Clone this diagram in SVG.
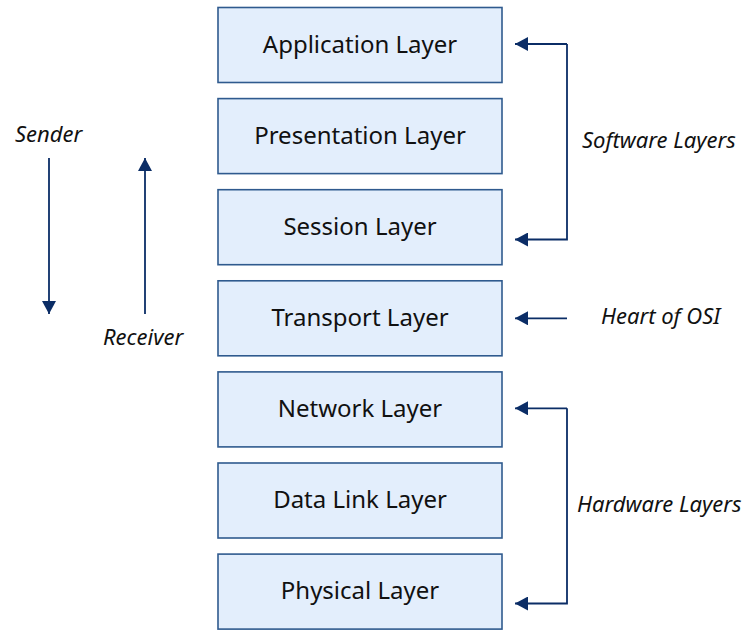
<svg xmlns="http://www.w3.org/2000/svg" width="747" height="630" viewBox="0 0 747 630">
  <style>
    .layer rect { fill: #E3EEFC; stroke: #2F5A8E; stroke-width: 1.6; }
    .layer text { font-family: "Noto Sans", "Open Sans", sans-serif; font-size: 24px; fill: #111; text-anchor: middle; }
    .note { font-family: "Noto Sans", "Open Sans", sans-serif; font-style: italic; font-size: 22px; fill: #111; }
    .link { fill: none; stroke: #0B2D66; stroke-width: 1.8; }
  </style>
  <defs>
    <marker id="head" viewBox="0 0 13 14" refX="13" refY="7" markerWidth="13" markerHeight="14" markerUnits="userSpaceOnUse" orient="auto">
      <path d="M0,0 L13,7 L0,14 Z" fill="#0B2D66"/>
    </marker>
  </defs>
  <rect width="747" height="630" fill="#fff"/>

  <g id="application"  class="layer"><rect x="218" y="7.5" width="284" height="75"/><text x="360" y="53">Application Layer</text></g>
  <g id="presentation" class="layer"><rect x="218" y="98.6" width="284" height="75"/><text x="360" y="144">Presentation Layer</text></g>
  <g id="session"      class="layer"><rect x="218" y="189.7" width="284" height="75"/><text x="360" y="235">Session Layer</text></g>
  <g id="transport"    class="layer"><rect x="218" y="280.8" width="284" height="75"/><text x="360" y="326">Transport Layer</text></g>
  <g id="network"      class="layer"><rect x="218" y="371.9" width="284" height="75"/><text x="360" y="417">Network Layer</text></g>
  <g id="datalink"     class="layer"><rect x="218" y="463" width="284" height="75"/><text x="360" y="508">Data Link Layer</text></g>
  <g id="physical"     class="layer"><rect x="218" y="554.1" width="284" height="75"/><text x="360" y="599">Physical Layer</text></g>

  <g id="connectors">
    <!-- direction of travel -->
    <line class="link" x1="49" y1="158" x2="49" y2="314" marker-end="url(#head)"/>
    <line class="link" x1="145" y1="314" x2="145" y2="158" marker-end="url(#head)"/>
    <!-- software bracket -->
    <polyline class="link" points="567,44 567,239.5 515,239.5" marker-end="url(#head)"/>
    <line class="link" x1="567" y1="44" x2="515" y2="44" marker-end="url(#head)"/>
    <!-- transport pointer -->
    <line class="link" x1="567" y1="318.3" x2="515" y2="318.3" marker-end="url(#head)"/>
    <!-- hardware bracket -->
    <polyline class="link" points="567,408.3 567,603.5 515,603.5" marker-end="url(#head)"/>
    <line class="link" x1="567" y1="408.3" x2="515" y2="408.3" marker-end="url(#head)"/>
  </g>

  <g id="labels">
    <text class="note" x="15" y="142">Sender</text>
    <text class="note" x="103" y="345">Receiver</text>
    <text class="note" x="582" y="148">Software Layers</text>
    <text class="note" x="601" y="324">Heart of OSI</text>
    <text class="note" x="577" y="512">Hardware Layers</text>
  </g>
</svg>
